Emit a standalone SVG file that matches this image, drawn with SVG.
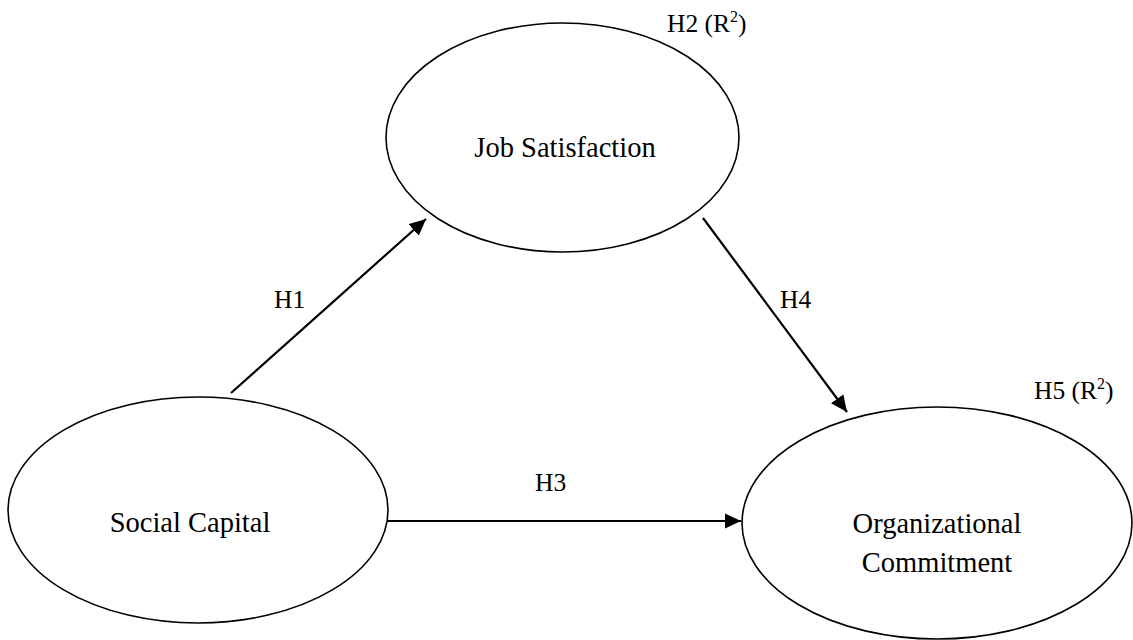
<svg xmlns="http://www.w3.org/2000/svg" width="1133" height="640" viewBox="0 0 1133 640">
<style>
.node ellipse{fill:#fff;stroke:#000;stroke-width:1.6}
.nt{font-family:'Liberation Serif','DejaVu Serif',serif;font-size:28.5px;fill:#000;text-anchor:middle}
.lb{font-family:'Liberation Serif','DejaVu Serif',serif;font-size:25.5px;fill:#000}
.conn line{stroke:#000;stroke-width:2.2}
</style>
<defs>
<marker id="ah" markerWidth="8" markerHeight="8" refX="7.5" refY="3.5" orient="auto" markerUnits="strokeWidth">
<path d="M0,0 L7.5,3.5 L0,7 z" fill="#000"/>
</marker>
</defs>
<rect width="1133" height="640" fill="#fff"/>
<g class="conn">
<line x1="231" y1="393" x2="426" y2="219" marker-end="url(#ah)"/>
<line x1="703" y1="218" x2="847" y2="412" marker-end="url(#ah)"/>
<line x1="387" y1="521" x2="741" y2="521" marker-end="url(#ah)"/>
</g>
<g id="job-satisfaction" class="node">
<ellipse cx="562.5" cy="137.5" rx="176.5" ry="114.5"/>
<text class="nt" x="565" y="157">Job Satisfaction</text>
</g>
<g id="social-capital" class="node">
<ellipse cx="198" cy="510" rx="190" ry="113"/>
<text class="nt" x="190" y="532">Social Capital</text>
</g>
<g id="organizational-commitment" class="node">
<ellipse cx="937" cy="523" rx="195" ry="116"/>
<text class="nt" x="937" y="533">Organizational</text>
<text class="nt" x="937" y="572">Commitment</text>
</g>
<g id="labels">
<text class="lb" x="274" y="308">H1</text>
<text class="lb" x="667" y="32">H2 (R<tspan font-size="16" dy="-10">2</tspan><tspan dy="10">)</tspan></text>
<text class="lb" x="535" y="491">H3</text>
<text class="lb" x="780" y="308">H4</text>
<text class="lb" x="1034" y="399">H5 (R<tspan font-size="16" dy="-10">2</tspan><tspan dy="10">)</tspan></text>
</g>
</svg>
